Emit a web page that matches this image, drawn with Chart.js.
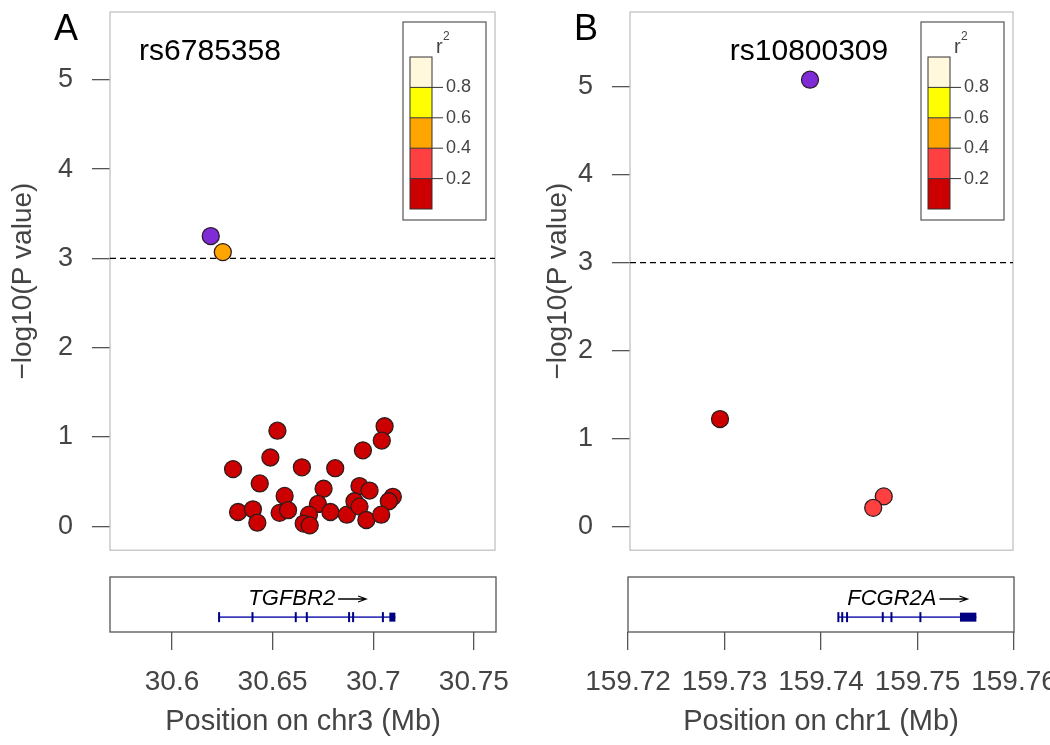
<!DOCTYPE html>
<html>
<head>
<meta charset="utf-8">
<script src="https://cdn.jsdelivr.net/npm/chart.js@4.4.1/dist/chart.umd.min.js"></script>
<style>
  html, body { margin: 0; padding: 0; background: #fff; width: 1050px; height: 745px; overflow: hidden; }
  canvas { position: absolute; }
</style>
</head>
<body>
<canvas id="mainA" width="520" height="560" style="left:0;top:0"></canvas>
<canvas id="geneA" width="520" height="180" style="left:0;top:565px"></canvas>
<canvas id="mainB" width="530" height="560" style="left:520px;top:0"></canvas>
<canvas id="geneB" width="580" height="180" style="left:520px;top:565px"></canvas>
<script>
const family = '"Liberation Sans", Arial, Helvetica, sans-serif';
Chart.defaults.font.family = family;

// shared
const yTicks = [0, 1, 2, 3, 4, 5];
const sigLine = 3;
const r2Breaks = [0.2, 0.4, 0.6, 0.8];
const r2Colors = ["#cc0000", "#ff4040", "#ffa500", "#ffff00", "#fff8dc"];
const leadColor = "#7f2bd6";

// panel A - TGFBR2 region, chr3
const xTicksA = [30.6, 30.65, 30.7, 30.75];
const leadA = "rs6785358";
const leadPosA = 30.6194, leadLogPA = 3.25;
const posA = [30.6526, 30.7060, 30.7046, 30.6952, 30.6491, 30.6305, 30.6648, 30.6814, 30.6438, 30.6756,
              30.6935, 30.6985, 30.6562, 30.7101, 30.7081, 30.6330, 30.6404, 30.6426, 30.6537, 30.6579,
              30.6728, 30.6683, 30.6657, 30.6687, 30.6790, 30.6872, 30.6910, 30.6935, 30.6969, 30.7043,
              30.6254];
const logPA = [1.07, 1.12, 0.96, 0.85, 0.77, 0.64, 0.66, 0.65, 0.48, 0.42,
              0.45, 0.40, 0.34, 0.33, 0.28, 0.16, 0.19, 0.04, 0.15, 0.18,
              0.25, 0.13, 0.03, 0.01, 0.16, 0.13, 0.28, 0.22, 0.07, 0.13,
              3.07];
const r2A = [0.10, 0.08, 0.12, 0.05, 0.10, 0.15, 0.06, 0.09, 0.11, 0.04,
             0.07, 0.13, 0.10, 0.05, 0.08, 0.12, 0.06, 0.03, 0.09, 0.14,
             0.05, 0.10, 0.02, 0.04, 0.07, 0.11, 0.06, 0.08, 0.03, 0.09,
             0.52];
const geneA = "TGFBR2";
const geneSpanA = [30.6234, 30.7110];
const exonsA = [30.6234, 30.6400, 30.6615, 30.6670, 30.6880, 30.6900, 30.7048];
const lastExonA = [30.7080, 30.7110];

// panel B - FCGR2A region, chr1
const xTicksB = [159.72, 159.73, 159.74, 159.75, 159.76];
const leadB = "rs10800309";
const leadPosB = 159.7388, leadLogPB = 5.08;
const posB = [159.7294, 159.7465, 159.7454];
const logPB = [1.22, 0.34, 0.21];
const r2B = [0.12, 0.31, 0.28];
const geneB = "FCGR2A";
const geneSpanB = [159.7418, 159.7561];
const exonsB = [159.7418, 159.7422, 159.7427, 159.7464, 159.7473, 159.7503];
const lastExonB = [159.7544, 159.7561];

function r2Color(v) {
  let i = 0;
  while (i < r2Breaks.length && v >= r2Breaks[i]) i++;
  return r2Colors[i];
}

const mainDecor = {
  id: 'mainDecor',
  beforeDatasetsDraw(chart) {
    const {ctx, chartArea: a} = chart;
    ctx.save();
    ctx.strokeStyle = '#bdbdbd';
    ctx.lineWidth = 1.2;
    ctx.strokeRect(a.left, a.top, a.right - a.left, a.bottom - a.top);
    ctx.restore();
  },
  afterDraw(chart, args, opts) {
    const {ctx, chartArea: a} = chart;
    ctx.save();
    ctx.fillStyle = '#000';
    ctx.font = '36px ' + family;
    ctx.textAlign = 'left';
    ctx.textBaseline = 'alphabetic';
    ctx.fillText(opts.letter, 54, 40);

    ctx.font = '30px ' + family;
    ctx.textAlign = 'center';
    ctx.textBaseline = 'middle';
    ctx.fillText(opts.snp, opts.snpX, 52);

    // r2 legend
    const bx = a.right - 92, by = a.top + 10, bw = 83, bh = 198;
    ctx.strokeStyle = '#555';
    ctx.lineWidth = 1.2;
    ctx.strokeRect(bx, by, bw, bh);
    const barX = bx + 7, barW = 22, barTop = by + 35, segH = 30.4;
    for (let i = 0; i < r2Colors.length; i++) {
      ctx.fillStyle = r2Colors[r2Colors.length - 1 - i];
      ctx.fillRect(barX, barTop + i * segH, barW, segH);
    }
    ctx.strokeStyle = '#333';
    ctx.lineWidth = 1;
    ctx.strokeRect(barX, barTop, barW, segH * r2Colors.length);
    ctx.fillStyle = '#444';
    ctx.font = '18px ' + family;
    ctx.textAlign = 'left';
    for (let i = 0; i < r2Breaks.length; i++) {
      const yy = barTop + segH * (r2Breaks.length - i);
      ctx.beginPath();
      ctx.moveTo(barX, yy);
      ctx.lineTo(barX + barW + 11, yy);
      ctx.stroke();
      ctx.fillText(r2Breaks[i].toFixed(1), barX + barW + 14, yy);
    }
    ctx.font = '20px ' + family;
    ctx.fillText('r', bx + 33, by + 25);
    ctx.font = '12px ' + family;
    ctx.fillText('2', bx + 40, by + 15);
    ctx.restore();
  }
};

const geneDecor = {
  id: 'geneDecor',
  afterDraw(chart, args, opts) {
    const {ctx, chartArea: a, scales: {x, y}} = chart;
    ctx.save();
    ctx.strokeStyle = '#555';
    ctx.lineWidth = 1.3;
    ctx.strokeRect(a.left, a.top, a.right - a.left, a.bottom - a.top);
    ctx.font = 'italic 22px ' + family;
    const tw = ctx.measureText(opts.name).width;
    const arrowLen = 28;
    const mid = (x.getPixelForValue(opts.span[0]) + x.getPixelForValue(opts.span[1])) / 2;
    const start = mid - (tw + arrowLen + 3) / 2;
    const ty = y.getPixelForValue(0.6);
    ctx.fillStyle = '#000';
    ctx.textAlign = 'left';
    ctx.textBaseline = 'middle';
    ctx.fillText(opts.name, start, ty);
    const ax0 = start + tw + 3, ax1 = ax0 + arrowLen;
    ctx.strokeStyle = '#000';
    ctx.lineWidth = 1.3;
    ctx.beginPath();
    ctx.moveTo(ax0, ty);
    ctx.lineTo(ax1, ty);
    ctx.moveTo(ax1 - 8, ty - 3);
    ctx.lineTo(ax1, ty);
    ctx.lineTo(ax1 - 8, ty + 3);
    ctx.stroke();
    ctx.restore();
  }
};

function mainChart(id, o) {
  return new Chart(document.getElementById(id), {
    type: 'scatter',
    data: {
      datasets: [
        {
          data: [{x: o.xRange[0], y: sigLine}, {x: o.xRange[1], y: sigLine}],
          showLine: true, borderColor: '#000', borderWidth: 1.3, borderDash: [6, 4],
          pointRadius: 0, order: 3
        },
        {
          data: o.pos.map((x, i) => ({x: x, y: o.logP[i]})),
          backgroundColor: o.r2.map(r2Color), borderColor: '#2e1c1c', borderWidth: 1.3,
          pointRadius: 8.5, order: 2
        },
        {
          data: [{x: o.leadPos, y: o.leadLogP}],
          backgroundColor: leadColor, borderColor: '#2e1c2e', borderWidth: 1.3,
          pointRadius: 8.5, order: 1
        }
      ]
    },
    options: {
      responsive: false,
      animation: false,
      layout: {padding: {top: 12, bottom: 8, left: 0, right: o.padRight}},
      plugins: {
        legend: {display: false},
        tooltip: {enabled: false},
        mainDecor: {letter: o.letter, snp: o.snp, snpX: o.snpX}
      },
      scales: {
        x: {type: 'linear', display: false, min: o.xRange[0], max: o.xRange[1]},
        y: {
          min: o.yRange[0], max: o.yRange[1],
          afterBuildTicks: s => { s.ticks = yTicks.map(v => ({value: v})); },
          afterFit: s => { s.width = 110; s.paddingTop = 0; s.paddingBottom = 0; },
          grid: {drawOnChartArea: false, tickLength: 18, color: '#555', lineWidth: 1.3},
          border: {display: false},
          ticks: {padding: 19, color: '#444', font: {size: 27}, callback: v => String(v)},
          title: {display: true, text: '\u2212log10(P value)', color: '#444', font: {size: 28}, padding: {top: o.titlePad, bottom: 0}}
        }
      }
    },
    plugins: [mainDecor]
  });
}

function geneChart(id, o) {
  return new Chart(document.getElementById(id), {
    type: 'scatter',
    data: {
      datasets: [
        {
          data: o.exons.map(x => ({x: x, y: 0.27})),
          pointStyle: 'line', rotation: 90, pointRadius: 5,
          borderColor: '#000080', borderWidth: 2, order: 1
        },
        {
          data: o.lastExon.map(x => ({x: x, y: 0.27})),
          showLine: true, borderColor: '#000080', borderWidth: 9, borderCapStyle: 'butt',
          pointRadius: 0, order: 2
        },
        {
          data: o.span.map(x => ({x: x, y: 0.27})),
          showLine: true, borderColor: '#3d3dbb', borderWidth: 1.6,
          pointRadius: 0, order: 3
        }
      ]
    },
    options: {
      responsive: false,
      animation: false,
      layout: {padding: {top: 12, bottom: 0, left: o.padLeft, right: o.padRight}},
      plugins: {
        legend: {display: false},
        tooltip: {enabled: false},
        geneDecor: {name: o.name, span: o.span}
      },
      scales: {
        x: {
          type: 'linear', min: o.xRange[0], max: o.xRange[1],
          afterBuildTicks: s => { s.ticks = o.ticks.map(v => ({value: v})); },
          afterFit: s => { s.height = 113; s.paddingLeft = 0; s.paddingRight = 0; },
          grid: {drawOnChartArea: false, tickLength: 18, color: '#555', lineWidth: 1.3},
          border: {display: false},
          ticks: {padding: 15, color: '#444', font: {size: 28}, maxRotation: 0, autoSkip: false, callback: v => String(v)},
          title: {display: true, text: o.title, color: '#444', font: {size: 29}, padding: {top: 0, bottom: 6}}
        },
        y: {display: false, min: 0, max: 1}
      }
    },
    plugins: [geneDecor]
  });
}

mainChart('mainA', {
  letter: 'A', snp: leadA, snpX: 210, titlePad: 6, padRight: 25,
  xRange: [30.5692, 30.761], yRange: [-0.268, 5.759],
  pos: posA, logP: logPA, r2: r2A, leadPos: leadPosA, leadLogP: leadLogPA
});
mainChart('mainB', {
  letter: 'B', snp: leadB, snpX: 289, titlePad: 21, padRight: 37,
  xRange: [159.72, 159.76], yRange: [-0.272, 5.85],
  pos: posB, logP: logPB, r2: r2B, leadPos: leadPosB, leadLogP: leadLogPB
});
geneChart('geneA', {
  name: geneA, span: geneSpanA, exons: exonsA, lastExon: lastExonA,
  ticks: xTicksA, xRange: [30.5692, 30.761], title: 'Position on chr3 (Mb)',
  padLeft: 110, padRight: 24
});
geneChart('geneB', {
  name: geneB, span: geneSpanB, exons: exonsB, lastExon: lastExonB,
  ticks: xTicksB, xRange: [159.72, 159.76], title: 'Position on chr1 (Mb)',
  padLeft: 108, padRight: 86
});
</script>
</body>
</html>
